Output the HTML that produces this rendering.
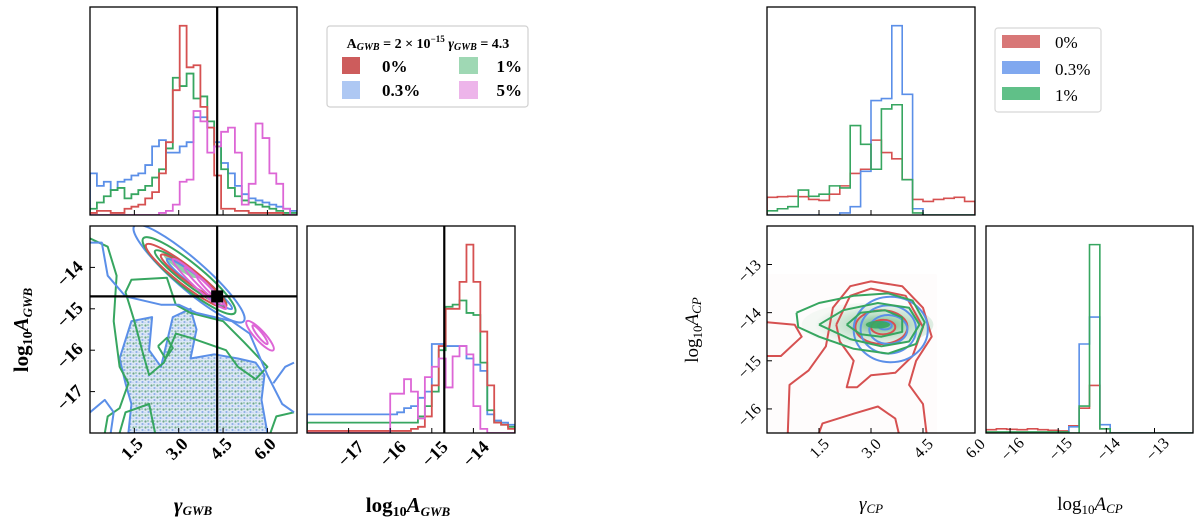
<!DOCTYPE html>
<html><head><meta charset="utf-8">
<style>
html,body{margin:0;padding:0;background:#fff;}
svg{display:block;}
.lb{font-family:"Liberation Serif",serif;font-weight:bold;}
.rt{font-family:"Liberation Serif",serif;}
</style></head>
<body>
<svg id="fig" width="1200" height="522" viewBox="0 0 1200 522" xmlns="http://www.w3.org/2000/svg">
<defs>
<pattern id="dots" width="6" height="6" patternUnits="userSpaceOnUse">
<rect width="6" height="6" fill="#dde8f7"/>
<circle cx="1.5" cy="1.5" r="1.1" fill="#6fa88a"/>
<circle cx="4.5" cy="4" r="1.1" fill="#8fb0e8"/>
<circle cx="4" cy="1" r="0.7" fill="#5fae7a"/>
<circle cx="1" cy="4.5" r="0.6" fill="#b7c9ee"/>
</pattern>
<radialGradient id="ggrad" cx="0.6" cy="0.5" r="0.5">
<stop offset="0" stop-color="#3aa35f" stop-opacity="0.75"/>
<stop offset="0.5" stop-color="#3aa35f" stop-opacity="0.3"/>
<stop offset="1" stop-color="#3aa35f" stop-opacity="0.05"/>
</radialGradient>
</defs>
</svg>
<script>
// ---------- data ----------
const seriesNamesL = ["0%","0.3%","1%","5%"];
const seriesNamesR = ["0%","0.3%","1%"];
const gamL_red = [0.01,0.02,0.02,0.01,0.01,0.03,0.04,0.05,0.08,0.11,0.2,0.35,0.6,0.91,0.71,0.72,0.52,0.42,0.19,0.03,0.03,0.02,0.02,0.01,0.01,0.01,0.01,0.01,0,0];
const gamL_blue = [0.2,0.14,0.16,0.12,0.16,0.17,0.19,0.2,0.24,0.33,0.36,0.3,0.3,0.33,0.35,0.47,0.47,0.42,0.35,0.25,0.2,0.14,0.1,0.08,0.07,0.06,0.05,0.04,0.03,0.02];
const gamL_green = [0.03,0.06,0.09,0.12,0.13,0.08,0.1,0.12,0.14,0.18,0.22,0.32,0.66,0.62,0.68,0.56,0.57,0.45,0.33,0.22,0.13,0.09,0.07,0.06,0.05,0.04,0.03,0.02,0.01,0.01];
const gamL_mag = [0,0,0,0,0,0,0,0,0,0,0.01,0.02,0.05,0.16,0.17,0.5,0.45,0.3,0.33,0.4,0.42,0.3,0.05,0.15,0.44,0.37,0.2,0.15,0.03,0];
const ampL_red = [0.01,0.01,0.01,0.01,0.01,0.01,0.01,0.01,0.01,0.01,0.01,0.01,0.01,0.01,0.01,0.02,0.03,0.08,0.23,0.42,0.6,0.6,0.73,0.91,0.73,0.49,0.23,0.05,0.04,0.02];
const ampL_blue = [0.09,0.09,0.09,0.09,0.09,0.09,0.09,0.09,0.09,0.09,0.09,0.09,0.09,0.1,0.12,0.13,0.17,0.2,0.43,0.43,0.42,0.42,0.42,0.36,0.33,0.3,0.09,0.06,0.05,0.04];
const ampL_green = [0.05,0.05,0.05,0.05,0.05,0.05,0.05,0.05,0.05,0.05,0.05,0.05,0.05,0.05,0.05,0.05,0.08,0.13,0.2,0.4,0.61,0.62,0.64,0.58,0.57,0.34,0.11,0.05,0.04,0.03];
const ampL_mag = [0,0,0,0,0,0,0,0,0,0,0,0,0.19,0.19,0.26,0.2,0.07,0.27,0.32,0.36,0.22,0.37,0.42,0.38,0.13,0.02,0,0,0,0];
const gamR_red = [0.085,0.088,0.09,0.088,0.075,0.07,0.1,0.14,0.2,0.22,0.36,0.3,0.27,0.17,0.075,0.065,0.075,0.08,0.085,0.065];
const gamR_blue = [0,0,0,0,0,0,0,0.01,0.04,0.21,0.55,0.56,0.91,0.58,0.03,0,0,0,0,0];
const gamR_green = [0.02,0.03,0.04,0.12,0.09,0.1,0.14,0.13,0.43,0.34,0.22,0.51,0.53,0.17,0.01,0,0,0,0,0];
const ampR_red = [0.016,0.02,0.018,0.016,0.02,0.016,0.013,0.01,0.035,0.12,0.23,0.02,0,0,0,0,0,0,0,0];
const ampR_blue = [0,0,0,0,0,0,0,0,0.03,0.43,0.56,0.04,0,0,0,0,0,0,0,0];
const ampR_green = [0.005,0.005,0.005,0.005,0.005,0.005,0.005,0.005,0,0.13,0.91,0.02,0,0,0,0,0,0,0,0];
const gamTicksL = [1.5,3.0,4.5,6.0];
const ampTicksL = [-17,-16,-15,-14];
const gamTicksR = [1.5,3.0,4.5,6.0];
const ampTicksR = [-16,-15,-14,-13];
const ampTicksR2D = [-13,-14,-15,-16];
const truthL = [4.3,-14.7];
const ellL_green = [[1.8,-13.3,4.9,-15.1,0.3],[2.2,-13.6,4.6,-14.9,0.18]];
const ellL_blue = [[1.5,-13.0,5.2,-15.3,0.36],[2.6,-13.8,4.8,-15.0,0.13]];
const ellL_red = [[1.9,-13.45,4.6,-14.95,0.22],[2.4,-13.7,4.3,-14.7,0.15]];
const ellL_mag = [[2.8,-13.8,4.6,-15.0,0.12],[3.2,-14.0,4.5,-14.9,0.08],[3.6,-14.2,4.4,-14.8,0.05],[5.3,-15.3,6.2,-16.0,0.12],[5.5,-15.4,6.0,-15.85,0.06]];
const ellL_fill = [[2.5,-13.7,3.6,-14.25,0.09]];
const blobL = [[1.0,-16.2],[1.4,-15.3],[2.1,-15.2],[2.0,-16.0],[2.4,-16.4],[2.8,-15.2],[3.4,-15.0],[3.6,-15.5],[3.4,-16.2],[4.2,-16.1],[5.0,-16.2],[5.6,-16.3],[5.9,-16.6],[5.8,-17.2],[6.0,-18.0],[1.3,-18.0],[1.4,-17.3],[1.2,-16.8]];
const lineL_green = [
 [[0,-13.3],[0.6,-13.5],[0.9,-14.2],[0.8,-15.3],[1.0,-16.4],[1.3,-16.8],[1.0,-17.4],[0.6,-17.6],[0.5,-18]],
 [[1.5,-15.3],[1.2,-14.6],[1.4,-14.3],[2.6,-14.25],[2.9,-14.9],[3.4,-15.1],[4.5,-15.3],[5.2,-15.8],[6.0,-16.4],[5.6,-16.7],[5.0,-16.4],[4.6,-16.0],[3.4,-15.7],[2.9,-15.6],[2.5,-16.3],[2.0,-16.6],[1.8,-16.1],[1.5,-15.3]],
 [[2.3,-15.9],[2.6,-15.7],[2.8,-15.95],[2.55,-16.2],[2.3,-15.9]],
 [[1.0,-18],[1.2,-17.5],[2.0,-17.3],[2.2,-18]],
 [[6.1,-18],[6.3,-17.6],[6.9,-17.5]]
];
const lineL_blue = [
 [[0,-13.4],[0.4,-13.4],[0.6,-14.2],[1.2,-14.7],[2.4,-14.9],[3.0,-14.9],[3.6,-15.1],[4.8,-15.3],[5.4,-15.6],[6.0,-16.6],[6.5,-17.3],[6.9,-17.5]],
 [[0,-17.5],[0.5,-17.2],[0.8,-17.5],[0.7,-18]],
 [[6.2,-16.8],[6.6,-16.4],[6.9,-16.3]]
];
const polyR_red = [
 [[0,-14.2],[0.8,-14.25],[1.0,-14.5],[0.4,-14.9],[0,-14.9]],
 [[0.6,-16.5],[0.65,-15.5],[1.2,-15.2],[1.7,-14.7],[1.9,-13.9],[2.4,-13.45],[3.0,-13.35],[3.9,-13.45],[4.5,-13.9],[4.75,-14.5],[4.3,-15.0],[4.1,-15.5],[4.5,-15.9],[4.6,-16.5]],
 [[1.5,-16.5],[1.6,-16.3],[2.5,-16.1],[3.2,-15.95],[3.7,-16.2],[3.8,-16.5]],
 [[2.0,-14.25],[2.4,-13.65],[3.0,-13.5],[4.0,-13.65],[4.5,-14.3],[4.2,-14.9],[3.7,-15.25],[3.0,-15.3],[2.6,-15.55],[2.3,-15.55],[2.5,-15.0],[2.1,-14.6],[2.0,-14.25]]
];
const polyR_green = [
 [[0.85,-14.0],[1.5,-13.8],[2.5,-13.65],[3.5,-13.6],[4.2,-13.75],[4.55,-14.2],[4.3,-14.65],[3.5,-14.85],[2.5,-14.75],[1.5,-14.5],[0.9,-14.3],[0.85,-14.0]],
 [[1.5,-14.25],[2.2,-13.95],[3.2,-13.8],[4.1,-13.9],[4.4,-14.25],[4.1,-14.6],[3.3,-14.7],[2.4,-14.55],[1.5,-14.25]],
 [[2.3,-14.25],[2.7,-14.0],[3.4,-13.95],[3.9,-14.1],[3.9,-14.4],[3.3,-14.5],[2.7,-14.45],[2.3,-14.25]]
];
const ellR_blue = [[3.57,-14.35,1.07,0.68],[3.5,-14.35,0.8,0.5],[3.5,-14.35,0.55,0.3],[3.4,-14.27,0.2,0.08]];
const ellR_red = [[3.3,-14.3,0.75,0.35],[3.35,-14.3,0.35,0.15]];
const ellR_green = [[3.2,-14.25,0.35,0.08]];
const ellR_fill = [[2.9,-14.25,1.9,0.45]];

// ---------- helpers ----------
const NS = "http://www.w3.org/2000/svg";
const svg = document.getElementById("fig");
const C = {red:"#d65151", blue:"#5b8fe8", green:"#37a660", mag:"#dd66d6"};
function mk(tag, attrs, parent){
  const e = document.createElementNS(NS, tag);
  for (const k in attrs) e.setAttribute(k, attrs[k]);
  (parent||svg).appendChild(e);
  return e;
}
function lin(d0,d1,r0,r1){ return v => r0 + (v-d0)/(d1-d0)*(r1-r0); }
let clipN = 0;
function panel(x0,y0,x1,y1,name){
  const g = mk("g",{});
  
  
  const id = "clip"+(clipN++);
  const cp = mk("clipPath",{id:id}, svg);
  mk("rect",{x:x0,y:y0,width:x1-x0,height:y1-y0}, cp);
  const inner = mk("g",{"clip-path":"url(#"+id+")"}, g);
  return {g, inner, x0,y0,x1,y1};
}
function frame(p, name){
  const r = mk("rect",{x:p.x0,y:p.y0,width:p.x1-p.x0,height:p.y1-p.y0,fill:"none",stroke:"#000","stroke-width":1.3}, p.g);
  
  
}
function hist(p, vals, d0, d1, color, name, sw){
  const sx = lin(0, vals.length, p.x0, p.x1);
  const sy = v => p.y1 - v*(p.y1-p.y0);
  let d = "M"+sx(0)+","+p.y1;
  vals.forEach((v,i)=>{ d += " L"+sx(i)+","+sy(v)+" L"+sx(i+1)+","+sy(v); });
  d += " L"+sx(vals.length)+","+p.y1;
  const e = mk("path",{d:d,fill:"none",stroke:color,"stroke-width":sw||1.8,"stroke-linejoin":"miter"}, p.inner);
  
  
}
function poly(p, pts, sx, sy, color, name, closed, fill, sw){
  const s = pts.map(q=>sx(q[0]).toFixed(1)+","+sy(q[1]).toFixed(1)).join(" ");
  const e = mk(closed?"polygon":"polyline",{points:s,fill:fill||"none",stroke:color,"stroke-width":sw||2,"stroke-linejoin":"round"}, p.inner);
  
  
  return e;
}
function diagEll(p, e, sx, sy, color, name, fill){
  const ax=sx(e[0]), ay=sy(e[1]), bx=sx(e[2]), by=sy(e[3]);
  const hw = Math.abs(sy(0)-sy(e[4]));
  const cx=(ax+bx)/2, cy=(ay+by)/2, L=Math.hypot(bx-ax,by-ay)/2, ang=Math.atan2(by-ay,bx-ax)*180/Math.PI;
  const el = mk("ellipse",{cx:cx,cy:cy,rx:L,ry:hw,transform:"rotate("+ang+" "+cx+" "+cy+")",fill:fill||"none",stroke:fill?"none":color,"stroke-width":2}, p.inner);
  
  
}
function axEll(p, e, sx, sy, color, name, fill){
  const el = mk("ellipse",{cx:sx(e[0]),cy:sy(e[1]),rx:Math.abs(sx(e[2])-sx(0)),ry:Math.abs(sy(0)-sy(e[3])),fill:fill||"none",stroke:fill?"none":color,"stroke-width":2}, p.inner);
  
  
}
function xticks(p, ticks, sx, name){
  ticks.forEach(t=>{
    const x = sx(t);
    const tk = mk("line",{x1:x,x2:x,y1:p.y1,y2:p.y1-5,stroke:"#000","stroke-width":1}, p.g);
    
    
  });
}
function yticks(p, ticks, sy, name){
  ticks.forEach(t=>{
    const y = sy(t);
    const tk = mk("line",{x1:p.x0,x2:p.x0+5,y1:y,y2:y,stroke:"#000","stroke-width":1}, p.g);
    
    
  });
}
function vline(p, x, name){
  const l = mk("line",{x1:x,x2:x,y1:p.y0,y2:p.y1,stroke:"#000","stroke-width":2.2}, p.g);
  
  
}
function hline(p, y, name){
  const l = mk("line",{x1:p.x0,x2:p.x1,y1:y,y2:y,stroke:"#000","stroke-width":2.2}, p.g);
  
  
}

// ---------- LEFT CORNER ----------
const LT = panel(90,7,297,215,"left-gamma-histogram");
const sxLg = lin(0,7,90,297);
hist(LT, gamL_blue, 0,7, C.blue, "hist-gamma-0.3pct");
hist(LT, gamL_green, 0,7, C.green, "hist-gamma-1pct");
hist(LT, gamL_red, 0,7, C.red, "hist-gamma-0pct");
hist(LT, gamL_mag, 0,7, C.mag, "hist-gamma-5pct");
vline(LT, sxLg(truthL[0]), "truth-gamma-line-top");
xticks(LT, gamTicksL, sxLg, "left-top-x");
frame(LT, "left-top-frame");

const L2 = panel(90,226,297,433,"left-2d-panel");
const syLa = lin(-13,-18,226,433);
poly(L2, blobL, sxLg, syLa, C.blue, "scatter-blob", true, "url(#dots)", 2);
lineL_green.forEach((l,i)=>poly(L2, l, sxLg, syLa, C.green, "contour-green-broad-"+i, false));
lineL_blue.forEach((l,i)=>poly(L2, l, sxLg, syLa, C.blue, "contour-blue-broad-"+i, false));
ellL_fill.forEach((e,i)=>diagEll(L2, e, sxLg, syLa, C.green, "density-fill-green", "rgba(55,166,96,0.55)"));
ellL_blue.forEach((e,i)=>diagEll(L2, e, sxLg, syLa, C.blue, "contour-blue-"+i));
ellL_green.forEach((e,i)=>diagEll(L2, e, sxLg, syLa, C.green, "contour-green-"+i));
ellL_red.forEach((e,i)=>diagEll(L2, e, sxLg, syLa, C.red, "contour-red-"+i));
ellL_mag.forEach((e,i)=>diagEll(L2, e, sxLg, syLa, C.mag, "contour-magenta-"+i));
vline(L2, sxLg(truthL[0]), "truth-gamma-line");
hline(L2, syLa(truthL[1]), "truth-amp-line");
const mkSq = mk("rect",{x:sxLg(truthL[0])-6,y:syLa(truthL[1])-6,width:12,height:12,fill:"#000"}, L2.g);


xticks(L2, gamTicksL, sxLg, "left-2d-x");
yticks(L2, ampTicksL, syLa, "left-2d-y");
frame(L2, "left-2d-frame");

const LR = panel(307,226,515,433,"left-amp-histogram");
const sxLa = lin(-18,-13,307,515);
hist(LR, ampL_blue, -18,-13, C.blue, "hist-amp-0.3pct");
hist(LR, ampL_green, -18,-13, C.green, "hist-amp-1pct");
hist(LR, ampL_red, -18,-13, C.red, "hist-amp-0pct");
hist(LR, ampL_mag, -18,-13, C.mag, "hist-amp-5pct");
vline(LR, sxLa(truthL[1]), "truth-amp-line-hist");
xticks(LR, ampTicksL, sxLa, "left-amp-x");
frame(LR, "left-amp-frame");

// ---------- RIGHT CORNER ----------
const RT = panel(767,7,975,215,"right-gamma-histogram");
const sxRg = lin(0,6,767,975);
hist(RT, gamR_red, 0,6, C.red, "hist-gammacp-0pct", 1.6);
hist(RT, gamR_blue, 0,6, C.blue, "hist-gammacp-0.3pct", 1.6);
hist(RT, gamR_green, 0,6, C.green, "hist-gammacp-1pct", 1.6);
xticks(RT, gamTicksR, sxRg, "right-top-x");
frame(RT, "right-top-frame");

const R2 = panel(767,226,975,433,"right-2d-panel");
const syRa = lin(-12.2,-16.5,226,433);
poly(R2, [[0,-13.2],[4.9,-13.2],[4.9,-16.5],[0,-16.5]], sxRg, syRa, "none", "density-background", true, "rgba(214,81,81,0.02)", 0);
ellR_fill.forEach(e=>axEll(R2, e, sxRg, syRa, C.green, "density-fill-green", "url(#ggrad)"));
polyR_red.forEach((l,i)=>poly(R2, l, sxRg, syRa, C.red, "contour-red-"+i, false));
ellR_red.forEach((e,i)=>axEll(R2, e, sxRg, syRa, C.red, "contour-red-ell-"+i));
ellR_blue.forEach((e,i)=>axEll(R2, e, sxRg, syRa, C.blue, "contour-blue-"+i));
polyR_green.forEach((l,i)=>poly(R2, l, sxRg, syRa, C.green, "contour-green-"+i, false));
ellR_green.forEach((e,i)=>axEll(R2, e, sxRg, syRa, C.green, "contour-green-core", "rgba(55,166,96,0.9)"));
xticks(R2, gamTicksR, sxRg, "right-2d-x");
yticks(R2, ampTicksR2D, syRa, "right-2d-y");
frame(R2, "right-2d-frame");

const RR = panel(986,226,1193,433,"right-amp-histogram");
const sxRa = lin(-16.5,-12.2,986,1193);
hist(RR, ampR_red, -16.5,-12.2, C.red, "hist-ampcp-0pct", 1.6);
hist(RR, ampR_blue, -16.5,-12.2, C.blue, "hist-ampcp-0.3pct", 1.6);
hist(RR, ampR_green, -16.5,-12.2, C.green, "hist-ampcp-1pct", 1.6);
xticks(RR, ampTicksR, sxRa, "right-amp-x");
frame(RR, "right-amp-frame");
</script>

<div style="position:absolute;left:0;top:0;width:1200px;height:522px;pointer-events:none;">
<svg width="1200" height="522" style="position:absolute;left:0;top:0">
<text class="lb" font-size="18" text-anchor="end" x="0" y="0" transform="translate(144 445) rotate(-45)">1.5</text>
<text class="lb" font-size="18" text-anchor="end" x="0" y="0" transform="translate(189 445) rotate(-45)">3.0</text>
<text class="lb" font-size="18" text-anchor="end" x="0" y="0" transform="translate(233 445) rotate(-45)">4.5</text>
<text class="lb" font-size="18" text-anchor="end" x="0" y="0" transform="translate(277 445) rotate(-45)">6.0</text>

<text class="lb" font-size="18" text-anchor="end" x="0" y="0" transform="translate(84 268) rotate(-45)">−14</text>
<text class="lb" font-size="18" text-anchor="end" x="0" y="0" transform="translate(84 309) rotate(-45)">−15</text>
<text class="lb" font-size="18" text-anchor="end" x="0" y="0" transform="translate(84 350) rotate(-45)">−16</text>
<text class="lb" font-size="18" text-anchor="end" x="0" y="0" transform="translate(84 392) rotate(-45)">−17</text>

<text class="lb" font-size="18" text-anchor="end" x="0" y="0" transform="translate(365 448) rotate(-45)">−17</text>
<text class="lb" font-size="18" text-anchor="end" x="0" y="0" transform="translate(407 448) rotate(-45)">−16</text>
<text class="lb" font-size="18" text-anchor="end" x="0" y="0" transform="translate(449 448) rotate(-45)">−15</text>
<text class="lb" font-size="18" text-anchor="end" x="0" y="0" transform="translate(490 448) rotate(-45)">−14</text>

<text class="rt" font-size="16" text-anchor="end" x="0" y="0" transform="translate(830 445) rotate(-45)">1.5</text>
<text class="rt" font-size="16" text-anchor="end" x="0" y="0" transform="translate(882 445) rotate(-45)">3.0</text>
<text class="rt" font-size="16" text-anchor="end" x="0" y="0" transform="translate(934 445) rotate(-45)">4.5</text>
<text class="rt" font-size="16" text-anchor="end" x="0" y="0" transform="translate(986 445) rotate(-45)">6.0</text>

<text class="rt" font-size="16" text-anchor="end" x="0" y="0" transform="translate(762 266) rotate(-45)">−13</text>
<text class="rt" font-size="16" text-anchor="end" x="0" y="0" transform="translate(762 314) rotate(-45)">−14</text>
<text class="rt" font-size="16" text-anchor="end" x="0" y="0" transform="translate(762 362) rotate(-45)">−15</text>
<text class="rt" font-size="16" text-anchor="end" x="0" y="0" transform="translate(762 410) rotate(-45)">−16</text>

<text class="rt" font-size="16" text-anchor="end" x="0" y="0" transform="translate(1025 444) rotate(-45)">−16</text>
<text class="rt" font-size="16" text-anchor="end" x="0" y="0" transform="translate(1073 444) rotate(-45)">−15</text>
<text class="rt" font-size="16" text-anchor="end" x="0" y="0" transform="translate(1121 444) rotate(-45)">−14</text>
<text class="rt" font-size="16" text-anchor="end" x="0" y="0" transform="translate(1170 444) rotate(-45)">−13</text>

<text class="lb" x="0" y="0" font-size="21" text-anchor="middle" transform="translate(28 330) rotate(-90)">log<tspan font-size="14" dy="4">10</tspan><tspan dy="-4" font-style="italic">A</tspan><tspan font-size="13" dy="4" font-style="italic">GWB</tspan></text>
<text class="lb" x="193" y="512" font-size="21" text-anchor="middle" font-style="italic">γ<tspan font-size="13" dy="3">GWB</tspan></text>
<text class="lb" x="408" y="512" font-size="21" text-anchor="middle">log<tspan font-size="14" dy="4">10</tspan><tspan dy="-4" font-style="italic">A</tspan><tspan font-size="13" dy="4" font-style="italic">GWB</tspan></text>
<text class="rt" x="0" y="0" font-size="19" text-anchor="middle" transform="translate(698 330) rotate(-90)">log<tspan font-size="13" dy="4">10</tspan><tspan dy="-4" font-style="italic">A</tspan><tspan font-size="13" dy="3" font-style="italic">CP</tspan></text>
<text class="rt" x="871" y="510" font-size="19" text-anchor="middle" font-style="italic">γ<tspan font-size="13" dy="3">CP</tspan></text>
<text class="rt" x="1090" y="510" font-size="19" text-anchor="middle">log<tspan font-size="13" dy="4">10</tspan><tspan dy="-4" font-style="italic">A</tspan><tspan font-size="13" dy="3" font-style="italic">CP</tspan></text>

<g>
<rect x="327" y="26" width="201" height="81" rx="3" fill="#fff" stroke="#d0d0d0" stroke-width="1.2"/>
<text class="lb" x="428" y="48" font-size="14" text-anchor="middle">A<tspan font-size="10" font-style="italic" dy="2">GWB</tspan><tspan dy="-2"> = 2 × 10</tspan><tspan font-size="9" dy="-6">−15</tspan><tspan font-style="italic" dy="6"> γ</tspan><tspan font-size="10" font-style="italic" dy="2">GWB</tspan><tspan dy="-2"> = 4.3</tspan></text>
<rect x="342" y="57" width="18" height="17" fill="#cd5c5c"/>
<text class="lb" x="382" y="72" font-size="17">0%</text>
<rect x="342" y="81" width="18" height="18" fill="#aec8f3"/>
<text class="lb" x="382" y="96" font-size="17">0.3%</text>
<rect x="459" y="57" width="19" height="17" fill="#9fd8b4"/>
<text class="lb" x="522" y="72" font-size="17" text-anchor="end">1%</text>
<rect x="459" y="81" width="19" height="18" fill="#edb5ea"/>
<text class="lb" x="522" y="96" font-size="17" text-anchor="end">5%</text>
</g>

<g>
<rect x="995" y="28" width="106" height="84" rx="3" fill="#fff" stroke="#d8d8d8" stroke-width="1.2"/>
<rect x="1002" y="35" width="38" height="13" fill="#d87777"/>
<text class="rt" x="1055" y="48" font-size="17">0%</text>
<rect x="1002" y="61" width="38" height="13" fill="#80a8ef"/>
<text class="rt" x="1055" y="75" font-size="17">0.3%</text>
<rect x="1002" y="87" width="38" height="13" fill="#60c088"/>
<text class="rt" x="1055" y="101" font-size="17">1%</text>
</g>
</svg>
</div>
</body></html>
